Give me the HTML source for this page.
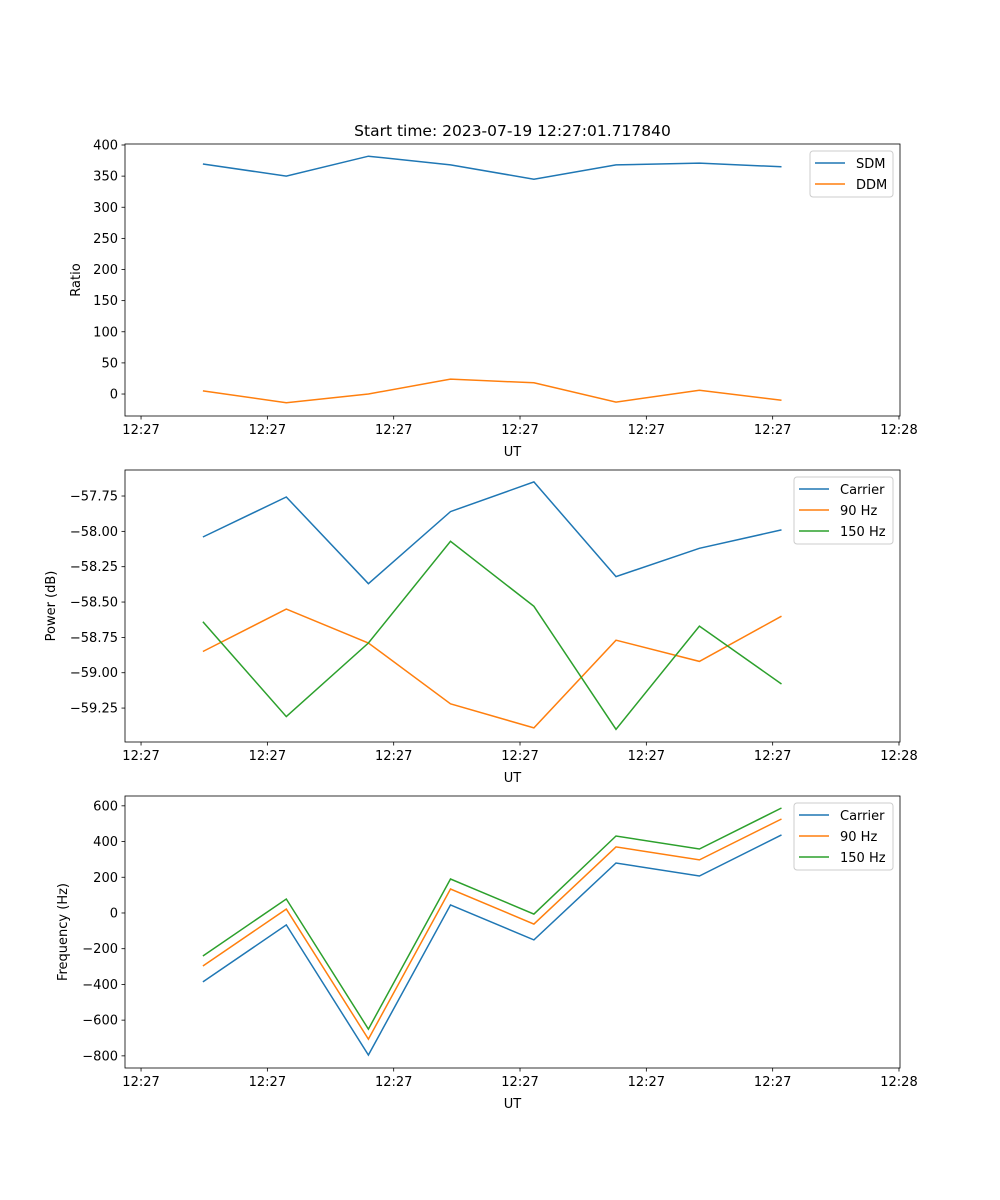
<!DOCTYPE html>
<html><head><meta charset="utf-8"><style>
body{margin:0;background:#fff}
svg{display:block;font-family:"DejaVu Sans","Liberation Sans",sans-serif}
</style></head><body>
<svg id="fig" width="1000" height="1200" xmlns="http://www.w3.org/2000/svg"></svg>
<script>
const xVals=[0.49,1.15,1.80,2.45,3.11,3.76,4.42,5.07];
const xTicks=[0,1,2,3,4,5,6];
const xTickLabels=["12:27","12:27","12:27","12:27","12:27","12:27","12:28"];
const sdm=[369.5,350,382,368,345,368,371,365];
const ddm=[5,-14,0,24,18,-13,6,-10];
const pCarrier=[-58.04,-57.757,-58.37,-57.86,-57.65,-58.32,-58.12,-57.99];
const p90=[-58.85,-58.55,-58.79,-59.22,-59.39,-58.77,-58.92,-58.60];
const p150=[-58.64,-59.31,-58.79,-58.07,-58.53,-59.40,-58.67,-59.08];
const fCarrier=[-386,-67,-795,45,-151,280,207,437];
const f90=[-297,22,-706,134,-62,370,297,526];
const f150=[-241,78,-650,190,-6,431,358,588];
const ticks1=[0,50,100,150,200,250,300,350,400];
const ticks2=[-59.25,-59.00,-58.75,-58.50,-58.25,-58.00,-57.75];
const ticks3=[-800,-600,-400,-200,0,200,400,600];

const NS="http://www.w3.org/2000/svg";
const svg=document.getElementById('fig');
function mk(tag,attrs,parent){const e=document.createElementNS(NS,tag);for(const k in attrs)e.setAttribute(k,attrs[k]);(parent||svg).appendChild(e);return e;}
const L=125,R=900,X0=-0.127,X1=6.008;
const sx=v=>L+(v-X0)/(X1-X0)*(R-L);
const C=["#1f77b4","#ff7f0e","#2ca02c"];

function panel(name,top,bot,ymin,ymax,ticks,fmt,ylabel,ylabX,series,names,legend,title){
  const g=mk('g',{});
  
  
  const sy=v=>bot-(v-ymin)/(ymax-ymin)*(bot-top);
  series.forEach((s,i)=>{
    const p=mk('polyline',{points:s.map((v,j)=>sx(xVals[j]).toFixed(1)+','+sy(v).toFixed(1)).join(' '),fill:'none',stroke:C[i],'stroke-width':1.5},g);
    
    
  });
  const fr=mk('rect',{x:L,y:top,width:R-L,height:bot-top,fill:'none',stroke:'#000','stroke-width':0.8},g);
  
  
  xTicks.forEach((t,i)=>{
    const x=sx(t);
    mk('line',{x1:x,x2:x,y1:bot,y2:bot+3.5,stroke:'#000','stroke-width':0.8},g);
    const tx=mk('text',{x:x,y:bot+18,'font-size':13,'text-anchor':'middle'},g);
    tx.textContent=xTickLabels[i];
    
    
  });
  ticks.forEach(t=>{
    const y=sy(t);
    mk('line',{x1:L,x2:L-3.5,y1:y,y2:y,stroke:'#000','stroke-width':0.8},g);
    const tx=mk('text',{x:L-7,y:y+4.5,'font-size':13,'text-anchor':'end'},g);
    tx.textContent=fmt(t).replace('-','\u2212');
    
    
  });
  const xl=mk('text',{x:(L+R)/2,y:bot+40,'font-size':13,'text-anchor':'middle'},g);
  xl.textContent='UT';
  
  
  const yl=mk('text',{x:ylabX,y:(top+bot)/2,'font-size':13,'text-anchor':'middle',transform:`rotate(-90 ${ylabX} ${(top+bot)/2})`},g);
  yl.textContent=ylabel;
  
  
  if(title){
    const tt=mk('text',{x:(L+R)/2,y:top-8,'font-size':15.5,'text-anchor':'middle'},g);
    tt.textContent=title;
    
    
  }
  const lg=mk('g',{},g);
  
  
  mk('rect',{x:legend.x,y:top+7,width:legend.w,height:names.length*21+4,rx:3,fill:'#fff','fill-opacity':0.8,stroke:'#ccc'},lg);
  names.forEach((n,i)=>{
    const y=top+19+i*21;
    mk('line',{x1:legend.x+5,x2:legend.x+35,y1:y,y2:y,stroke:C[i],'stroke-width':1.5},lg);
    const t=mk('text',{x:legend.x+46,y:y+5,'font-size':13},lg);
    t.textContent=n;
    
    
  });
}
panel('ratio-panel',144,416,-35.3,401.6,ticks1,v=>String(v),'Ratio',80,[sdm,ddm],['SDM','DDM'],{x:810,w:83},'Start time: 2023-07-19 12:27:01.717840');
panel('power-panel',470,742,-59.49,-57.566,ticks2,v=>v.toFixed(2),'Power (dB)',55,[pCarrier,p90,p150],['Carrier','90 Hz','150 Hz'],{x:794,w:99});
panel('frequency-panel',796,1068,-868,655,ticks3,v=>String(v),'Frequency (Hz)',67,[fCarrier,f90,f150],['Carrier','90 Hz','150 Hz'],{x:794,w:99});
</script>
</body></html>
